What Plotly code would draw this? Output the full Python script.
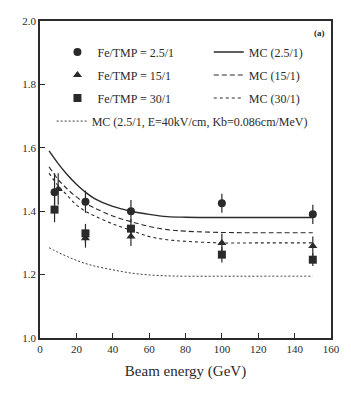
import plotly.graph_objects as go

# ---- data ----
E_circ = [8, 25, 50, 100, 150]
R_circ = [1.46, 1.43, 1.40, 1.425, 1.39]
err_circ = [0.06, 0.035, 0.035, 0.03, 0.03]

E_tri = [10, 25, 50, 100, 150]
R_tri = [1.47, 1.315, 1.32, 1.30, 1.29]
err_tri = [0.05, 0.03, 0.03, 0.03, 0.03]

E_sq = [8, 25, 50, 100, 150]
R_sq = [1.405, 1.33, 1.345, 1.263, 1.247]
err_sq = [0.04, 0.03, 0.03, 0.025, 0.02]

E_mc = [5, 10, 15, 20, 25, 30, 40, 50, 60, 70, 80, 100, 120, 150]
MC_25 = [1.59, 1.55, 1.515, 1.485, 1.46, 1.44, 1.415, 1.40, 1.39, 1.383, 1.381, 1.38, 1.38, 1.38]
MC_15 = [1.54, 1.50, 1.47, 1.445, 1.425, 1.41, 1.385, 1.367, 1.352, 1.342, 1.337, 1.333, 1.332, 1.332]
MC_30 = [1.52, 1.48, 1.45, 1.42, 1.40, 1.385, 1.36, 1.34, 1.32, 1.31, 1.305, 1.30, 1.30, 1.30]
MC_E = [1.285, 1.27, 1.257, 1.245, 1.235, 1.227, 1.215, 1.205, 1.199, 1.196, 1.195, 1.195, 1.195, 1.195]

x_ticks = [0, 20, 40, 60, 80, 100, 120, 140, 160]
y_ticks = [1.0, 1.2, 1.4, 1.6, 1.8, 2.0]

INK = "#2a2a2a"
FONT = "'Liberation Serif', 'Times New Roman', serif"

fig = go.Figure()

def pts(x, y, e, sym, name, grp):
    fig.add_trace(go.Scatter(
        x=x, y=y, mode="markers", name=name, legend="legend", legendgroup=grp,
        marker=dict(symbol=sym, size=8, color=INK),
        error_y=dict(type="data", array=e, color=INK, thickness=1.2, width=0),
    ))

pts(E_circ, R_circ, err_circ, "circle", "Fe/TMP = 2.5/1", "a")
pts(E_tri, R_tri, err_tri, "triangle-up", "Fe/TMP = 15/1", "b")
pts(E_sq, R_sq, err_sq, "square", "Fe/TMP = 30/1", "c")

def line(y, dash, w, name, leg, grp):
    fig.add_trace(go.Scatter(
        x=E_mc, y=y, mode="lines", name=name, legend=leg, legendgroup=grp,
        line=dict(color=INK, dash=dash, width=w, shape="spline"),
    ))

line(MC_25, "solid", 1.4, "MC (2.5/1)", "legend2", "d")
line(MC_15, "5px,3px", 1.1, "MC (15/1)", "legend2", "e")
line(MC_30, "3px,3px", 1.1, "MC (30/1)", "legend2", "f")
line(MC_E, "2px,2px", 0.9, "MC (2.5/1, E=40kV/cm, Kb=0.086cm/MeV)", "legend3", "g")

leg_common = dict(bgcolor="rgba(0,0,0,0)", borderwidth=0,
                  font=dict(family=FONT, size=12, color=INK),
                  tracegroupgap=4, itemwidth=30,
                  xanchor="left", yanchor="top")

fig.update_layout(
    width=351, height=396,
    margin=dict(l=40, r=11, t=21, b=58),
    paper_bgcolor="white", plot_bgcolor="white",
    font=dict(family=FONT, size=11, color=INK),
    showlegend=True,
    legend=dict(x=0.06, y=0.948, **leg_common),
    legend2=dict(x=0.58, y=0.948, **leg_common),
    legend3=dict(x=0.04, y=0.73, **leg_common),
    xaxis=dict(range=[0, 160], tickvals=x_ticks, ticks="inside", ticklen=5,
               showline=True, linecolor=INK, linewidth=1.5, mirror=True,
               showgrid=False, zeroline=False, tickcolor=INK,
               title=dict(text="Beam energy (GeV)", font=dict(family=FONT, size=15, color=INK), standoff=12)),
    yaxis=dict(range=[1.0, 2.0], tickvals=y_ticks, tickformat=".1f", ticks="inside", ticklen=5,
               showline=True, linecolor=INK, linewidth=1.5, mirror=True,
               showgrid=False, zeroline=False, tickcolor=INK),
    annotations=[dict(text="<b>(a)</b>", x=0.985, y=0.985, xref="paper", yref="paper",
                      xanchor="right", yanchor="top", showarrow=False,
                      font=dict(family=FONT, size=9, color=INK))],
)

fig.write_html("out.html", config={"displayModeBar": False},
               post_script="document.body.style.margin='0';")
